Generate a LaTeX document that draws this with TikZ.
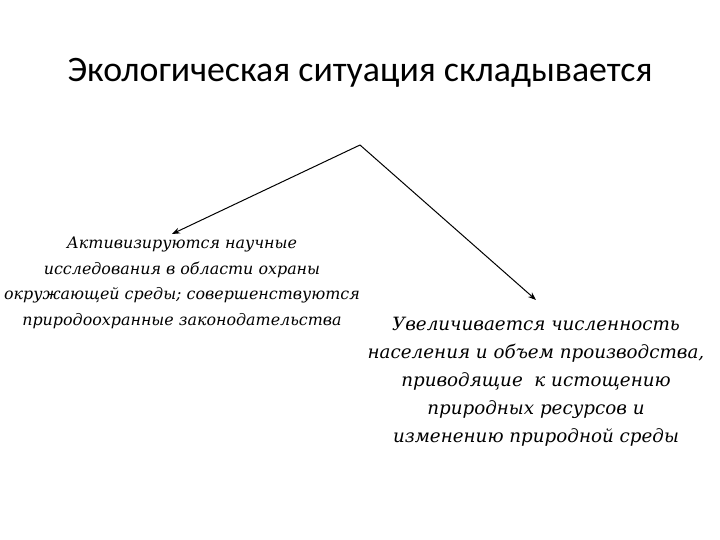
\documentclass[tikz,border=0pt]{standalone}
\usepackage{fontspec}
\setmainfont{DejaVu Serif}
\newfontfamily\titlefont{Carlito}
\usetikzlibrary{arrows.meta}
\begin{document}
\begin{tikzpicture}[x=1pt,y=-1pt,
  arr/.style={draw=black,line width=1pt,-{Stealth[length=8pt,width=6pt]}},
  lefttext/.style={align=center,font=\fontsize{15.9}{25.5}\selectfont\itshape,inner sep=0pt},
  righttext/.style={align=center,font=\fontsize{18.3}{28}\selectfont\itshape,inner sep=0pt}]
\useasboundingbox[fill=white] (0,0) rectangle (720,540);
\node[font=\titlefont\fontsize{35.8}{40}\selectfont,anchor=base] (title) at (360,82) {Экологическая ситуация складывается};
\coordinate (apex) at (360,145);
\coordinate (lend) at (172,234);
\coordinate (rend) at (536,300);
\node[lefttext] (left) at (182,283) {Активизируются научные\\исследования в области охраны\\окружающей среды; совершенствуются\\природоохранные законодательства};
\node[righttext] (right) at (536,382) {Увеличивается численность\\населения и объем производства,\\приводящие~ к истощению\\природных ресурсов и\\изменению природной среды};
\draw[arr] (apex) -- (lend);
\draw[arr] (apex) -- (rend);
\end{tikzpicture}
\end{document}
